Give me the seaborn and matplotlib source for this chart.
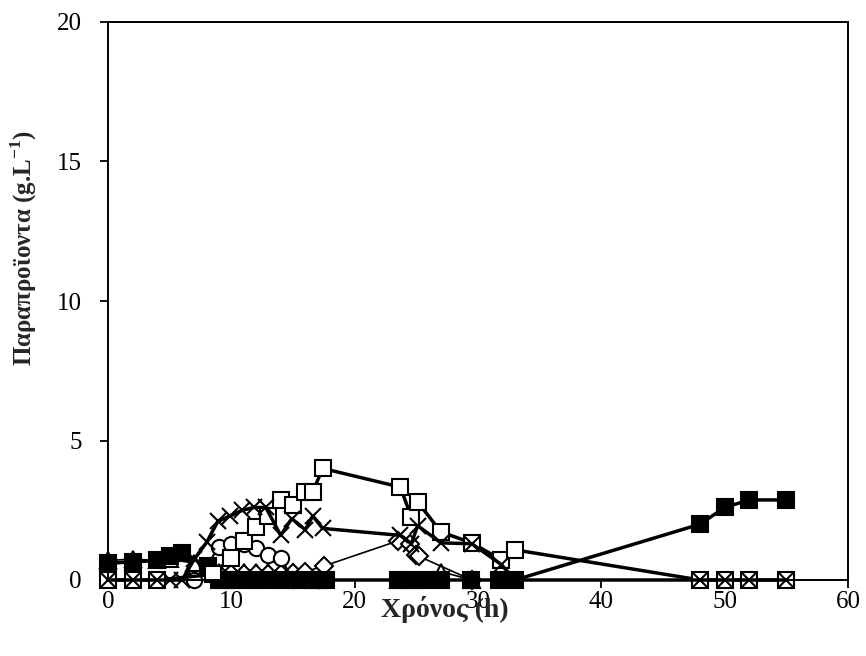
import matplotlib
matplotlib.use("Agg")
import matplotlib.pyplot as plt
import seaborn as sns

# time (h) and concentration (g/L) for each by-product series
t_sq_filled = [0, 2, 4, 5, 6, 8.1, 9, 9.5, 10, 11, 12, 13, 14, 15, 16, 17, 17.7,
               23.5, 24.5, 25.5, 27, 29.4, 31.7, 33, 48, 50, 52, 55]
v_sq_filled = [0.6, 0.65, 0.7, 0.85, 0.95, 0.5, 0, 0, 0, 0, 0, 0, 0, 0, 0, 0, 0,
               0, 0, 0, 0, 0, 0, 0, 2.0, 2.6, 2.87, 2.87]

t_sq_open = [0, 2, 4, 8.5, 10, 11, 12, 13, 14, 15, 16, 16.6, 17.4,
             23.7, 24.6, 25.1, 27, 29.5, 31.9, 33, 48, 50, 52, 55]
v_sq_open = [0, 0, 0, 0.2, 0.8, 1.4, 1.9, 2.3, 2.85, 2.7, 3.15, 3.15, 4.0,
             3.33, 2.25, 2.8, 1.72, 1.33, 0.72, 1.08, 0, 0, 0, 0]

t_cross = [0, 2, 4, 5, 6, 7, 8, 8.9, 9.9, 10.9, 11.8, 12.8, 14, 14.9, 16, 16.6, 17.4,
           23.7, 24.6, 25.1, 27, 29.5, 31.9, 33, 48, 50, 52, 55]
v_cross = [0, 0, 0, 0, 0, 0.75, 1.35, 2.1, 2.3, 2.5, 2.6, 2.6, 1.6, 2.2, 1.8, 2.3, 1.85,
           1.6, 1.3, 1.95, 1.33, 1.3, 0.55, 0, 0, 0, 0, 0]

t_circle = [7, 8, 9, 10, 11, 12, 13, 14, 15, 16, 17]
v_circle = [0, 0.5, 1.2, 1.3, 1.3, 1.15, 0.9, 0.8, 0, 0, 0]

t_diamond = [9, 10, 11, 12, 13, 14, 15, 16, 17.5, 23.5, 24.5, 25, 25.2, 29.5]
v_diamond = [0.2, 0.2, 0.2, 0.2, 0.2, 0.2, 0.25, 0.3, 0.5, 1.4, 1.3, 0.9, 0.85, 0]

t_triangle = [0, 2, 4, 5, 7, 9, 10, 11, 12, 13, 14, 15, 16, 17, 23.5, 25, 27, 29.5]
v_triangle = [0.7, 0.75, 0.7, 0.75, 0.6, 0.3, 0.3, 0.3, 0.3, 0.3, 0.3, 0.3, 0.3, 0,
              0, 0, 0.3, 0]

x_ticks = [0, 10, 20, 30, 40, 50, 60]
y_ticks = [0, 5, 10, 15, 20]

sns.set_style("ticks")
plt.rcParams['font.family'] = ['Liberation Serif', 'DejaVu Serif']
plt.rcParams['mathtext.fontset'] = 'custom'
plt.rcParams['mathtext.rm'] = 'Liberation Serif'
plt.rcParams['mathtext.bf'] = 'Liberation Serif:bold'

fig = plt.figure(figsize=(8.66, 6.56), dpi=100)
ax = fig.add_axes([108 / 866, 1 - 580 / 656, 740 / 866, 558 / 656])


def series(t, v, marker, ms, face, lw):
    sns.lineplot(x=t, y=v, ax=ax, sort=False, estimator=None, color='black',
                 linewidth=lw, marker=marker, markersize=ms,
                 markerfacecolor=face, markeredgecolor='black',
                 markeredgewidth=1.5, clip_on=False)


series(t_triangle, v_triangle, '^', 11, 'white', 1.2)
series(t_diamond, v_diamond, 'D', 9.5, 'white', 1.2)
series(t_circle, v_circle, 'o', 11, 'white', 1.5)
series(t_sq_filled, v_sq_filled, 's', 12, 'black', 2.5)
series(t_sq_open, v_sq_open, 's', 11.5, 'white', 2.5)
series(t_cross, v_cross, 'x', 12, 'white', 2.5)

ax.set_xlim(0, 60)
ax.set_ylim(0, 20)
ax.set_xticks(x_ticks)
ax.set_yticks(y_ticks)
ax.tick_params(axis='both', direction='out', length=6, width=1.3, labelsize=18,
               colors='black')
ax.tick_params(axis='y', pad=13)
ax.tick_params(axis='x', pad=2)
for s in ax.spines.values():
    s.set_visible(True)
    s.set_linewidth(1.4)
    s.set_color('black')

ax.set_xlabel('Χρόνος (h)', fontsize=20, fontweight='bold')
ax.set_ylabel('Παραπροϊοντα (g.L$^{\\mathbf{-1}}$)', fontsize=18, fontweight='bold')
ax.xaxis.set_label_coords(0.455, -0.028)
ax.yaxis.set_label_coords(-0.093, 0.595)

fig.savefig('out.png', dpi=100)
